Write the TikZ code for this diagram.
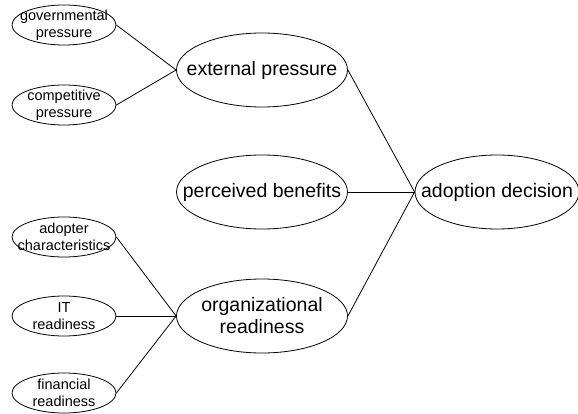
\documentclass[tikz,border=0pt]{standalone}
\usepackage{fontspec}
\setsansfont{Liberation Sans}
\usetikzlibrary{shapes.geometric}
\begin{document}
\begin{tikzpicture}[x=1pt,y=1pt,
  line width=0.8pt,
  small node/.style={ellipse,draw,minimum width=104pt,minimum height=40pt,inner sep=0pt,
    label={[font=\sffamily\fontsize{14.5}{17}\selectfont,align=center]center:#1}},
  big node/.style={ellipse,draw,minimum width=171pt,minimum height=74pt,inner sep=0pt,
    label={[font=\sffamily\fontsize{19.5}{22}\selectfont,align=center]center:#1}}]
  \useasboundingbox (0,0) rectangle (578,-414);

  \node[small node={governmental\\pressure}] (gov) at (64,-25) {};
  \node[small node={competitive\\pressure}] (comp) at (64,-105) {};
  \node[small node={adopter\\characteristics}] (adopter) at (64,-237) {};
  \node[small node={IT\\readiness}] (it) at (64,-316) {};
  \node[small node={financial\\readiness}] (fin) at (64,-393) {};

  \node[big node={external pressure}] (ext) at (262,-70) {};
  \node[big node={perceived benefits}] (ben) at (262,-192) {};
  \node[big node={organizational\\readiness}] (org) at (262,-316) {};
  \node[big node={adoption decision},minimum width=164pt] (dec) at (497,-192) {};

  \path
   (gov.east) edge (ext.west)
   (comp.east) edge (ext.west)
   (adopter.east) edge (org.west)
   (it.east) edge (org.west)
   (fin.east) edge (org.west)
   (ext.east) edge (dec.west)
   (ben.east) edge (dec.west)
   (org.east) edge (dec.west);
\end{tikzpicture}
\end{document}
